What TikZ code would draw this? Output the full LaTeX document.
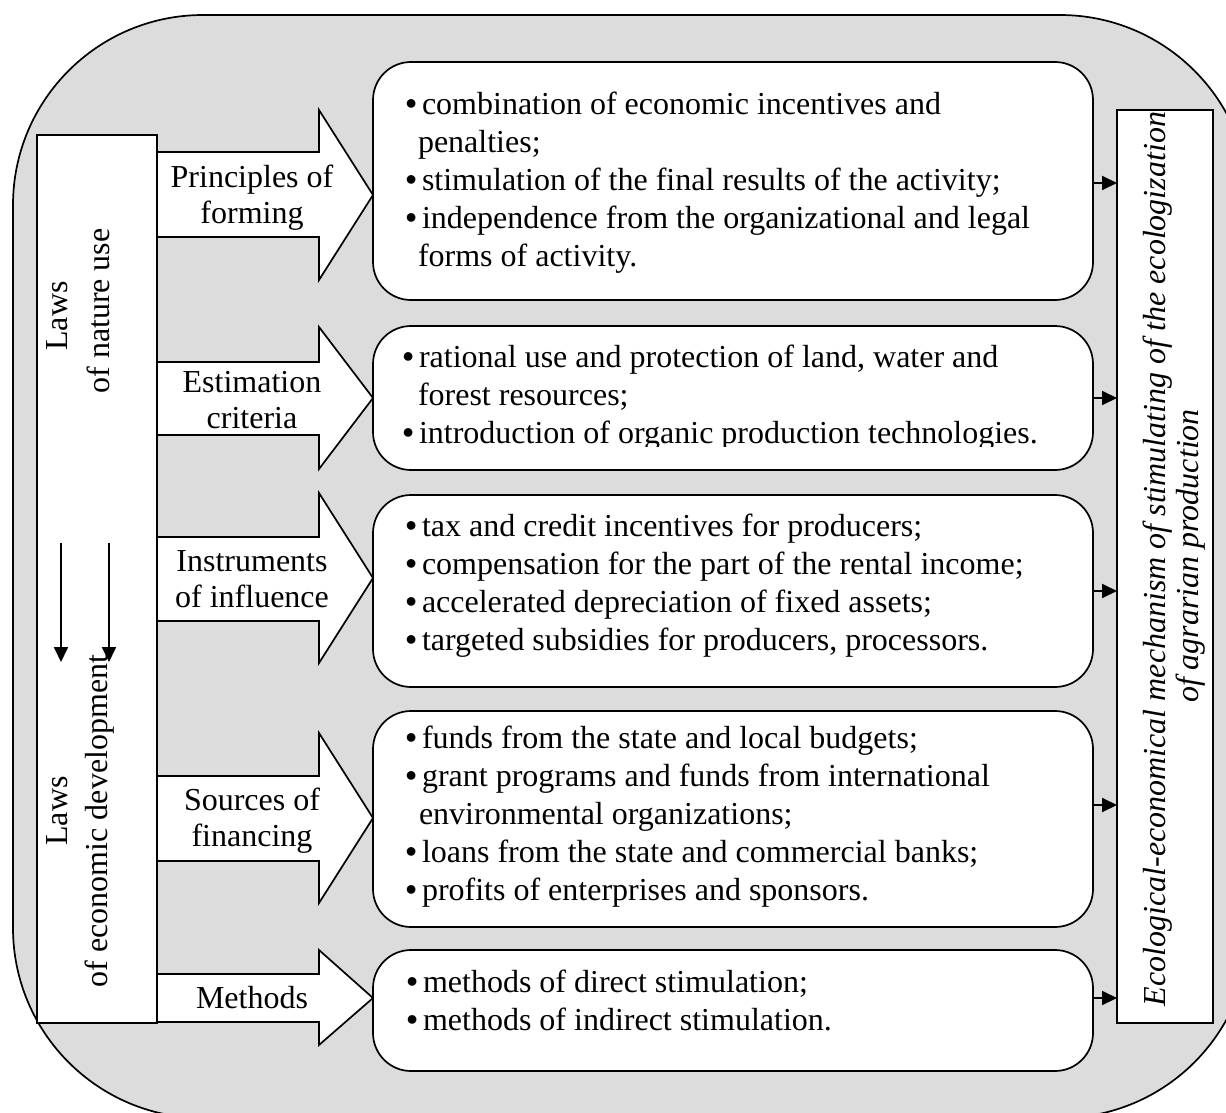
\documentclass[tikz,border=0pt]{standalone}
\usepackage{fontspec}
\setmainfont{Liberation Serif}
\usetikzlibrary{arrows.meta}
\definecolor{bggray}{RGB}{220,220,220}
\newcommand\bul{\makebox[17pt][l]{\hspace{0.5pt}\bfseries •}}
\begin{document}
\begin{tikzpicture}[x=1pt,y=-1pt,
  every node/.style={inner sep=0pt, outer sep=0pt},
  frame/.style={line width=1.7pt},
  whitebox/.style={draw, fill=white, line width=1.7pt, rectangle},
  itembox/.style={whitebox, rounded corners=38pt},
  barrow/.style={draw, fill=white, line width=1.7pt, line join=miter},
  conn/.style={line width=1.9pt, -{Triangle[length=15pt,width=14pt]}},
  lbl/.style={font=\fontsize{32}{36}\selectfont, anchor=base},
  items/.style={font=\fontsize{32}{38}\selectfont, anchor=base west},
  vtxt/.style={font=\fontsize{32}{38}\selectfont, rotate=90, anchor=base},
  vitx/.style={font=\fontsize{32}{38}\selectfont\itshape, rotate=90, anchor=base},
]
\path[use as bounding box] (0,0) rectangle (1226,1113);
\clip (0,0) rectangle (1226,1113);
\draw[frame, fill=bggray, rounded corners=190pt] (13,15) rectangle (1250,1118);

% left box
\node[whitebox, minimum width=120pt, minimum height=888pt] (laws) at (97,579) {};

% block arrows
\draw[barrow] (157,152) -- (319,152) -- (319,110) -- (373,195) -- (319,280) -- (319,237) -- (157,237) -- cycle;
\draw[barrow] (157,362) -- (319,362) -- (319,327) -- (373,398) -- (319,469) -- (319,435) -- (157,435) -- cycle;
\draw[barrow] (157,537) -- (319,537) -- (319,493) -- (373,578) -- (319,663) -- (319,621) -- (157,621) -- cycle;
\draw[barrow] (157,776) -- (319,776) -- (319,733) -- (373,818) -- (319,903) -- (319,861) -- (157,861) -- cycle;
\draw[barrow] (157,974) -- (319,974) -- (319,950) -- (373,998) -- (319,1045) -- (319,1022) -- (157,1022) -- cycle;

% item boxes
\node[itembox, minimum width=720pt, minimum height=238pt] (b1) at (733,181) {};
\node[itembox, minimum width=720pt, minimum height=144pt] (b2) at (733,398) {};
\node[itembox, minimum width=720pt, minimum height=192pt] (b3) at (733,591) {};
\node[itembox, minimum width=720pt, minimum height=216pt] (b4) at (733,819) {};
\node[itembox, minimum width=720pt, minimum height=121pt] (b5) at (733,1010.5) {};

% right box
\node[whitebox, minimum width=96pt, minimum height=913pt] (mech) at (1165,566.5) {};

% connectors to right box
\coordinate (c1) at ([yshift=-2pt]b1.east);
\coordinate (c2) at (b2.east);
\coordinate (c3) at (b3.east);
\coordinate (c4) at ([yshift=14pt]b4.east);
\coordinate (c5) at ([yshift=12.5pt]b5.east);
\foreach \c in {c1,c2,c3,c4,c5} {\draw[conn] (\c) -- (\c -| mech.west);}

% down arrows
\coordinate (d1a) at (61,543); \coordinate (d1b) at (61,662);
\coordinate (d2a) at (109,543); \coordinate (d2b) at (109,662);
\draw[conn] (d1a) -- (d1b);
\draw[conn] (d2a) -- (d2b);

% arrow labels
\node[lbl] (l1) at (252,187) {\begin{tabular}[t]{@{}c@{}}Principles of\\forming\end{tabular}};
\node[lbl] (l2) at (252,392) {\begin{tabular}[t]{@{}c@{}}Estimation\\criteria\end{tabular}};
\node[lbl] (l3) at (252,571) {\begin{tabular}[t]{@{}c@{}}Instruments\\of influence\end{tabular}};
\node[lbl] (l4) at (252,810) {\begin{tabular}[t]{@{}c@{}}Sources of\\financing\end{tabular}};
\node[lbl] (l5) at (252,1008) {Methods};

% item texts
\node[items] (t1) at (405,115) {\begin{tabular}[t]{@{}l@{}}\bul combination of economic incentives and\\\hspace{13pt}penalties;\\\bul stimulation of the final results of the activity;\\\bul independence from the organizational and legal\\\hspace{13pt}forms of activity.\end{tabular}};
\begin{scope}
\clip (373,326) rectangle (1093,446.5);
\node[items] (t2) at (402,367) {\begin{tabular}[t]{@{}l@{}}\bul rational use and protection of land, water and\\\hspace{16pt}forest resources;\\\bul introduction of organic production technologies.\end{tabular}};
\end{scope}
\node[items] (t3) at (405,536) {\begin{tabular}[t]{@{}l@{}}\bul tax and credit incentives for producers;\\\bul compensation for the part of the rental income;\\\bul accelerated depreciation of fixed assets;\\\bul targeted subsidies for producers, processors.\end{tabular}};
\node[items] (t4) at (405,748) {\begin{tabular}[t]{@{}l@{}}\bul funds from the state and local budgets;\\\bul grant programs and funds from international\\\hspace{14pt}environmental organizations;\\\bul loans from the state and commercial banks;\\\bul profits of enterprises and sponsors.\end{tabular}};
\node[items] (t5) at (406,992) {\begin{tabular}[t]{@{}l@{}}\bul methods of direct stimulation;\\\bul methods of indirect stimulation.\end{tabular}};

% vertical texts
\node[vtxt] (law1) at (67,316) {Laws};
\node[vtxt] (law2) at (109,311) {of nature use};
\node[vtxt] (law3) at (67,811) {Laws};
\node[vtxt] (law4) at (107,821) {of economic development};
\node[vitx] (m1) at (1165,559) {Ecological-economical mechanism of stimulating of the ecologization};
\node[vitx] (m2) at (1198,556) {of agrarian production};
\end{tikzpicture}
\end{document}
